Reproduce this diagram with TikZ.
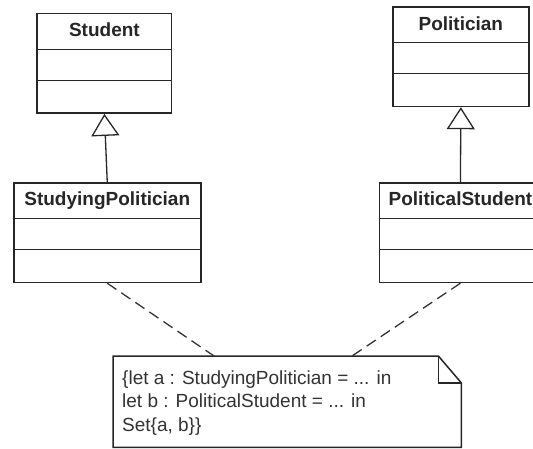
\documentclass[tikz,border=0pt]{standalone}
\usepackage{fontspec}
\setmainfont{Liberation Sans}
\usetikzlibrary{arrows.meta,calc}
\begin{document}
\begin{tikzpicture}[x=1pt,y=-1pt,
  classbox/.style={draw=black!85, line width=1.7pt, fill=white, inner sep=0pt,
    anchor=north west, minimum height=99.5pt},
  classname/.style={font=\bfseries\fontsize{19}{23}\selectfont, text=black!85,
    anchor=base, inner sep=0pt},
  compartment/.style={draw=black!85, line width=1.3pt},
  generalization/.style={draw=black!85, line width=1.3pt,
    -{Triangle[open, length=22pt, width=28pt, line width=1.3pt]}},
  anchorline/.style={draw=black!80, line width=1.3pt, dash pattern=on 11pt off 6pt},
  notebox/.style={draw=black!85, line width=1.5pt, fill=white},
  notetext/.style={font=\fontsize{19}{23.3}\selectfont, text=black!80,
    align=left, anchor=north west, inner sep=0pt}
]
\useasboundingbox (0,0) rectangle (533,448);
\clip (0,0) rectangle (533,448);

% class boxes
\node[classbox, minimum width=134.3pt] (student) at (36.4,12.7) {};
\node[classbox, minimum width=136pt] (politician) at (392,6) {};
\node[classbox, minimum width=187pt] (sp) at (12.9,182) {};
\node[classbox, minimum width=162pt] (ps) at (378.6,182) {};

% class names
\node[classname] (studentName) at ($(student.north)+(0,24)$) {Student};
\node[classname] (politicianName) at ($(politician.north)+(0,24)$) {Politician};
\node[classname] (spName) at ($(sp.north)+(0,23)$) {StudyingPolitician};
\node[classname] (psName) at ($(ps.north)+(0,23)$) {PoliticalStudent};

% compartments
\foreach \c in {student,politician,sp,ps}{
  \draw[compartment] ($(\c.north west)+(0,36.5)$) -- ($(\c.north east)+(0,36.5)$);
  \draw[compartment] ($(\c.north west)+(0,67.5)$) -- ($(\c.north east)+(0,67.5)$);
}

% generalizations
\draw[generalization] (sp.north) -- (student.south);
\draw[generalization] (ps.north) -- (politician.south);

% note with folded corner
\node[inner sep=0pt, minimum width=348pt, minimum height=91pt, anchor=north west]
  (note) at (113,356) {};
\draw[notebox] (note.north west) -- ($(note.north east)+(-23,0)$)
  -- ($(note.north east)+(0,27)$) -- (note.south east) -- (note.south west) -- cycle;
\draw[notebox, fill=none] ($(note.north east)+(-23,0)$) -- ($(note.north east)+(-23,27)$)
  -- ($(note.north east)+(0,27)$);
\node[notetext] (noteBody) at ($(note.north west)+(9,14.5)$)
  {\{let a : StudyingPolitician = ... in\\
   let b : PoliticalStudent = ... in\\
   Set\{a, b\}\}};

% note anchors
\draw[anchorline] (sp.south) -- ($(note.north west)+(101,0)$);
\draw[anchorline] (ps.south) -- ($(note.north west)+(239,0)$);
\end{tikzpicture}
\end{document}
